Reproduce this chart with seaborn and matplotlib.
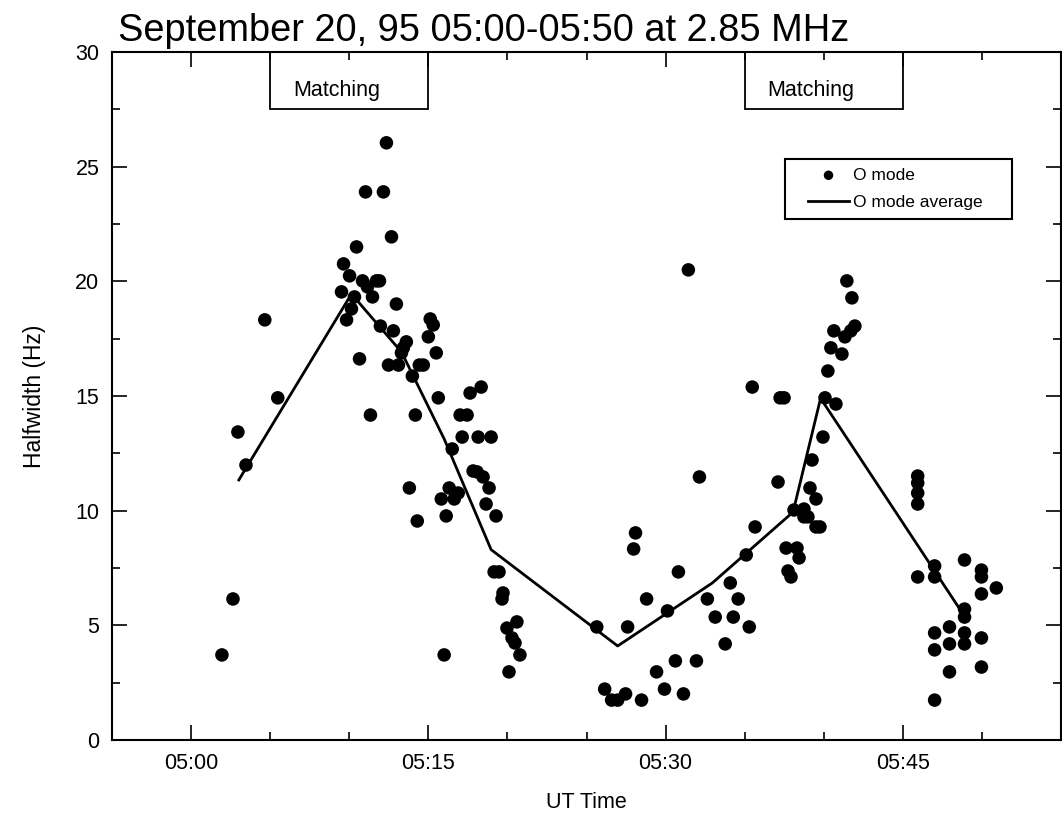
import matplotlib
matplotlib.use("Agg")
import matplotlib.pyplot as plt
from matplotlib.patches import Rectangle
from matplotlib.collections import PathCollection
from matplotlib.lines import Line2D
from matplotlib.legend_handler import HandlerPathCollection, HandlerLine2D
import numpy as np
import pandas as pd
import seaborn as sns

# ---- data (time in minutes after 05:00 UT, halfwidth in Hz) ----
o_time = [
    1.95, 2.65, 2.96, 3.47, 4.66, 5.48,
    9.51, 9.64, 9.83, 10.02, 10.14, 10.33, 10.46, 10.65, 10.84, 11.03, 11.15, 11.34,
    11.47, 11.72, 11.91, 11.97, 12.16, 12.35, 12.48, 12.67, 12.79, 12.98, 13.11, 13.30,
    13.42, 13.61, 13.80, 13.99, 14.18, 14.30, 14.43, 14.68, 15.00, 15.12, 15.31, 15.50,
    15.63, 15.82, 16.00, 16.13, 16.32, 16.51, 16.64, 16.89, 17.01, 17.14, 17.45, 17.64,
    17.83, 18.08, 18.15, 18.34, 18.46, 18.65, 18.84, 18.97, 19.16, 19.28, 19.47, 19.66,
    19.72, 19.97, 20.10, 20.29, 20.48, 20.60, 20.79,
    25.65, 26.15, 26.59, 26.97, 27.47, 27.60, 27.98, 28.10, 28.48, 28.80, 29.43, 29.93,
    30.12, 30.62, 30.81, 31.13, 31.44, 31.95, 32.14, 32.64, 33.14, 33.77, 34.09, 34.28,
    34.59, 35.10, 35.29, 35.48, 35.66,
    37.11, 37.24, 37.49, 37.62, 37.74, 37.93, 38.12, 38.31, 38.44, 38.75, 38.75, 39.00,
    39.13, 39.26, 39.51, 39.51, 39.76, 39.95, 40.08, 40.26, 40.45, 40.64, 40.77, 41.15,
    41.34, 41.46, 41.71, 41.78, 41.97,
    45.94, 45.94, 45.94, 45.94, 45.94, 47.01, 47.01, 47.01, 47.01, 47.01, 47.95, 47.95,
    47.95, 48.90, 48.90, 48.90, 48.90, 48.90, 49.97, 49.97, 49.97, 49.97, 49.97, 50.91,
]
o_width = [
    3.71, 6.15, 13.43, 11.99, 18.32, 14.92,
    19.54, 20.76, 18.32, 20.24, 18.80, 19.32, 21.50, 16.62, 20.02, 23.90, 19.76, 14.17,
    19.32, 20.02, 20.02, 18.05, 23.90, 26.04, 16.35, 21.94, 17.84, 19.01, 16.35, 16.88,
    17.10, 17.36, 10.99, 15.87, 14.17, 9.55, 16.35, 16.35, 17.58, 18.36, 18.10, 16.88,
    14.92, 10.51, 3.71, 9.77, 10.99, 12.69, 10.51, 10.77, 14.17, 13.21, 14.17, 15.13,
    11.73, 11.69, 13.21, 15.39, 11.47, 10.29, 10.99, 13.21, 7.33, 9.77, 7.33, 6.15,
    6.41, 4.88, 2.97, 4.45, 4.23, 5.15, 3.71,
    4.93, 2.22, 1.74, 1.74, 2.01, 4.93, 8.33, 9.03, 1.74, 6.15, 2.97, 2.22,
    5.63, 3.45, 7.33, 2.01, 20.50, 3.45, 11.47, 6.15, 5.36, 4.19, 6.85, 5.36,
    6.15, 8.07, 4.93, 15.39, 9.29,
    11.25, 14.92, 14.92, 8.37, 7.37, 7.11, 10.03, 8.37, 7.94, 10.07, 9.73, 9.73,
    10.99, 12.21, 10.51, 9.29, 9.29, 13.21, 14.92, 16.09, 17.10, 17.84, 14.65, 16.83,
    17.58, 20.02, 17.84, 19.28, 18.05,
    11.51, 11.21, 10.77, 10.29, 7.11, 7.59, 7.11, 4.67, 3.93, 1.74, 4.93, 4.19,
    2.97, 7.85, 5.71, 5.36, 4.67, 4.19, 7.41, 7.11, 6.37, 4.45, 3.18, 6.63,
]
avg_time = [3.02, 10.14, 13.30, 16.00, 18.97, 26.97, 32.96, 38.06, 39.80, 48.80]
avg_width = [11.34, 19.45, 16.92, 13.13, 8.30, 4.10, 6.85, 9.94, 14.90, 5.50]

matching_start = [5, 35]
matching_end = [15, 45]

x_major = [0, 15, 30, 45]
x_labels = ["05:00", "05:15", "05:30", "05:45"]

# ---- figure ----
plt.rcParams["font.family"] = ["Liberation Sans", "DejaVu Sans"]
W, H = 1062, 822
fig = plt.figure(figsize=(W / 100, H / 100), dpi=100)
L, R, T, B = 112, 1061, 52, 740
ax = fig.add_axes([L / W, 1 - B / H, (R - L) / W, (B - T) / H])

pts = pd.DataFrame({"t": o_time, "w": o_width})
avg = pd.DataFrame({"t": avg_time, "w": avg_width})

sns.scatterplot(data=pts, x="t", y="w", ax=ax, color="black", s=95,
                edgecolor="none", label="O mode", zorder=3)
sns.lineplot(data=avg, x="t", y="w", ax=ax, color="black", lw=2.0,
             label="O mode average", sort=False, zorder=4)

ax.set_xlim(-5, 55)
ax.set_ylim(0, 30)
ax.set_xticks(x_major)
ax.set_xticklabels(x_labels)
ax.set_xticks([5, 10, 20, 25, 35, 40, 50], minor=True)
ax.set_yticks(np.arange(0, 31, 5))
ax.set_yticks(np.arange(2.5, 30, 5), minor=True)
ax.tick_params(which="both", direction="in", top=True, right=True, width=1.2,
               labelsize=15.5, pad=9)
ax.tick_params(which="major", length=11)
ax.tick_params(which="minor", length=6)
for sp in ax.spines.values():
    sp.set_linewidth(1.5)

ax.set_xlabel("UT Time", fontsize=15.5, labelpad=13)
ax.set_ylabel("Halfwidth (Hz)", fontsize=16.5, labelpad=21)

fig.text(118 / W, 1 - 41 / H, "September 20, 95 05:00-05:50 at 2.85 MHz",
         fontsize=27.4, ha="left", va="baseline")

for s0, s1 in zip(matching_start, matching_end):
    ax.add_patch(Rectangle((s0, 27.5), s1 - s0, 2.5, fill=False, lw=1.3,
                           edgecolor="black", clip_on=False, zorder=5))
    ax.text(s0 + 1.45, 28.3, "Matching", fontsize=15.5, ha="left", va="center")

fs_leg = 12.5
pad_px = 14
xpad = pad_px / (fs_leg * 100 / 72)
hmap = {PathCollection: HandlerPathCollection(xpad=xpad),
        Line2D: HandlerLine2D(xpad=xpad)}
leg = ax.legend(loc="upper left",
                bbox_to_anchor=(785 / W, 1 - 218 / H, 227 / W, 59 / H),
                bbox_transform=fig.transFigure, borderaxespad=0, mode="expand",
                fontsize=fs_leg, frameon=True, fancybox=False, edgecolor="black",
                framealpha=1, markerscale=0.7, handlelength=2.4 + xpad,
                handletextpad=0.2, labelspacing=0.7, borderpad=0.5,
                handler_map=hmap)
leg.get_frame().set_linewidth(1.5)

fig.savefig("out.png", dpi=100)
